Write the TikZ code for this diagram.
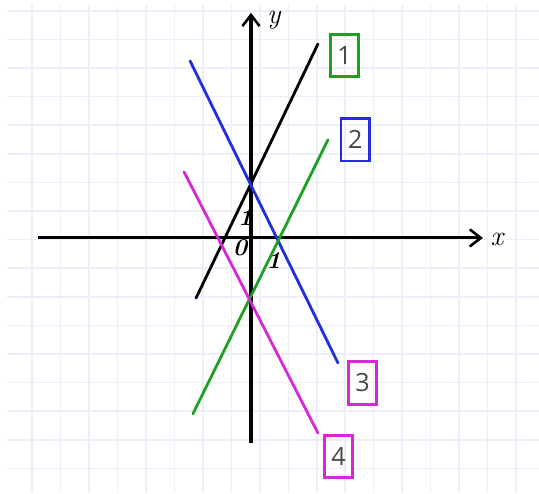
\documentclass[tikz,border=0pt]{standalone}
\usepackage{fontspec}
\newfontfamily\digitfont{Open Sans}
\usetikzlibrary{arrows.meta}
\definecolor{gridlav}{RGB}{236,238,249}
\definecolor{lineblue}{RGB}{35,45,225}
\definecolor{linegreen}{RGB}{30,160,35}
\definecolor{linemag}{RGB}{215,40,215}
\definecolor{digitgray}{RGB}{70,70,70}

\begin{document}
\begin{tikzpicture}[
  gridline/.style={draw=gridlav,line width=1.6pt},
  axis/.style={line width=3pt,-{Straight Barb[length=11pt,width=17pt,line width=2.6pt]}},
  graph/.style={line width=2.8pt,line cap=round},
  numbox/.style={draw,line width=2.8pt,minimum width=1.0cm,minimum height=1.48cm,inner sep=0pt,text=digitgray,font=\digitfont\fontsize{25}{28}\selectfont},
  hand/.style={font=\bfseries\itshape\fontsize{24}{26}\selectfont,inner sep=0pt}]
\useasboundingbox (-8.776,-8.92) rectangle (10.07,8.32);
% grid paper
\foreach \k in {-8,...,8}
  \draw[gridline] (-8.53,{\k-0.06}) -- (10.07,{\k-0.06});
\foreach \k in {0,...,17}
  \draw[gridline] ({-7.65+0.995*\k},8.15) -- ({-7.65+0.995*\k},-8.92);
% axes
\coordinate (xstart) at (-7.45,0);
\coordinate (xend) at (8.11,0);
\coordinate (ystart) at (0,-7.17);
\coordinate (yend) at (0,7.87);
\draw[axis] (xstart) -- (xend);
\draw[axis] (ystart) -- (yend);
\node[hand,font=\itshape\fontsize{28}{30}\selectfont] (xlab) at (8.6,-0.05) {x};
\node[hand,font=\itshape\fontsize{28}{30}\selectfont] (ylab) at (0.8,7.6) {y};
\node[hand] (zero) at (-0.38,-0.33) {0};
\node[hand] (oney) at (-0.2,0.72) {1};
\node[hand] (onex) at (0.80,-0.8) {1};
% the four lines
\coordinate (a1) at (-1.92,-2.10);
\coordinate (b1) at (2.34,6.78);
\coordinate (a2) at (-2.13,6.19);
\coordinate (b2) at (3.04,-4.37);
\coordinate (a3) at (-2.03,-6.15);
\coordinate (b3) at (2.69,3.43);
\coordinate (a4) at (-2.34,2.31);
\coordinate (b4) at (2.34,-6.82);
\draw[graph,black] (a1) -- (b1);
\draw[graph,lineblue] (a2) -- (b2);
\draw[graph,linegreen] (a3) -- (b3);
\draw[graph,linemag] (a4) -- (b4);
% number boxes
\node[numbox,draw=linegreen] (box1) at (3.27,6.38) {1};
\node[numbox,draw=lineblue] (box2) at (3.65,3.43) {2};
\node[numbox,draw=linemag] (box3) at (3.90,-5.07) {3};
\node[numbox,draw=linemag] (box4) at (3.06,-7.64) {4};
\end{tikzpicture}
\end{document}
